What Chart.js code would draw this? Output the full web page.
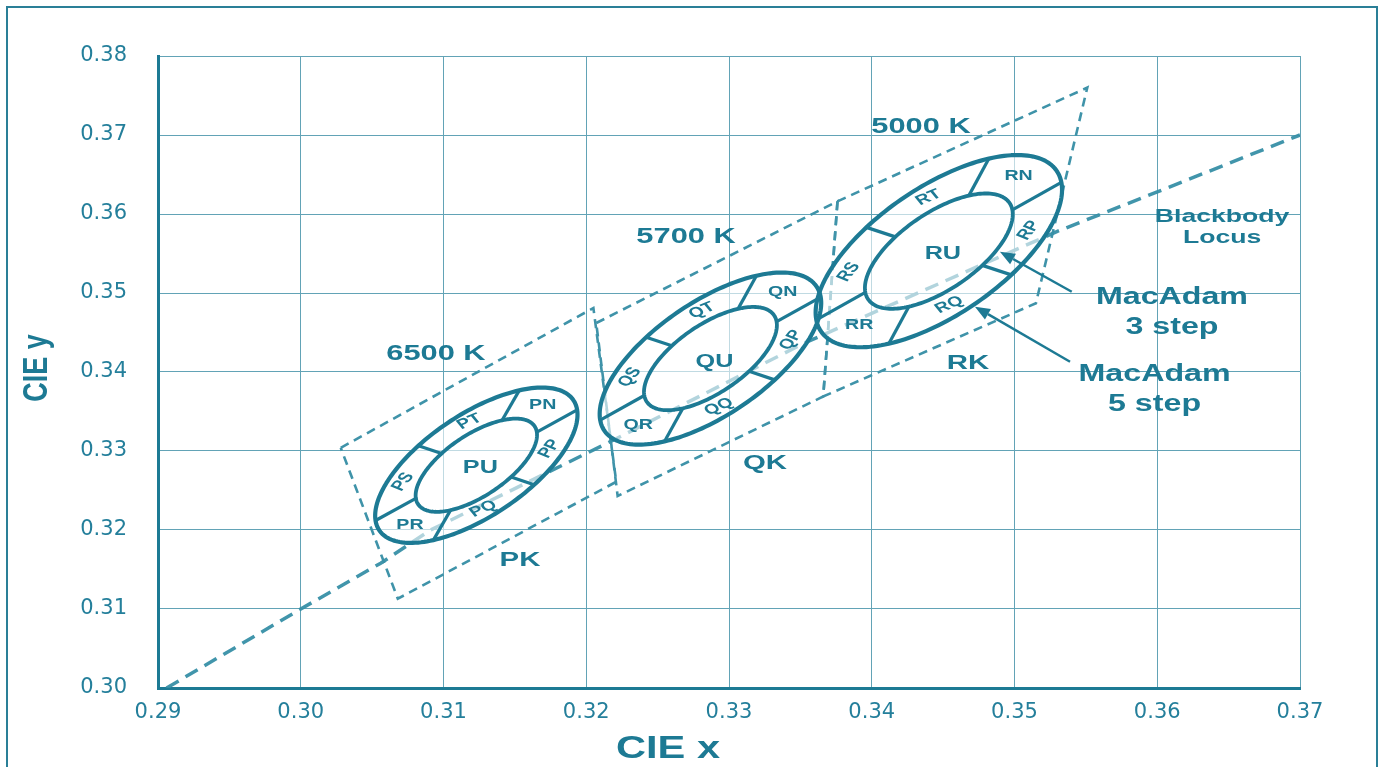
<!DOCTYPE html>
<html>
<head>
<meta charset="utf-8">
<title>MacAdam ellipses and CCT quadrangles</title>
<script src="https://cdn.jsdelivr.net/npm/chart.js@4.4.1/dist/chart.umd.min.js"></script>
<style>
  html, body { margin: 0; padding: 0; background: #fff; }
  #wrap { position: relative; width: 1382px; height: 767px; overflow: hidden; }
</style>
</head>
<body>
<div id="wrap"><canvas id="cie" width="1382" height="767"></canvas></div>
<script>
/* ---------- data ---------- */
const xTickLabels = ['0.29', '0.30', '0.31', '0.32', '0.33', '0.34', '0.35', '0.36', '0.37'];
const yTickLabels = ['0.30', '0.31', '0.32', '0.33', '0.34', '0.35', '0.36', '0.37', '0.38'];

// blackbody locus
const locusX = [0.2906, 0.3000, 0.3056, 0.3091, 0.3217, 0.3352, 0.3411, 0.3530, 0.3600, 0.3700];
const locusY = [0.3000, 0.3100, 0.3158, 0.3200, 0.3312, 0.3436, 0.3483, 0.3578, 0.3628, 0.3700];

// CCT quadrangles, corners from top-left going clockwise
const pkX = [0.3028, 0.3205, 0.3221, 0.3068];
const pkY = [0.3304, 0.3481, 0.3261, 0.3113];
const qkX = [0.3207, 0.3376, 0.3366, 0.3222];
const qkY = [0.3462, 0.3616, 0.3369, 0.3243];
const rkX = [0.3376, 0.3551, 0.3515, 0.3366];
const rkY = [0.3616, 0.3760, 0.3487, 0.3369];

// MacAdam ellipses (one-step size), drawn at 3 and 5 steps
const binNames    = ['P', 'Q', 'R'];
const ellipseCx   = [0.3123, 0.3287, 0.3447];
const ellipseCy   = [0.3282, 0.3417, 0.3553];
const ellipseA    = [0.00223, 0.00246, 0.00274];
const ellipseB    = [0.00095, 0.00105, 0.00118];
const ellipseTilt = [58.57, 59.09, 59.37];
const steps       = [3, 5];

// sub-bins of the ring between the 3 and 5 step ellipses
const ringNames = ['N', 'T', 'S', 'R', 'Q', 'P'];
const ringAngle = [0, 60, 120, 180, 240, 300];
const ringCuts  = [30, 90, 150, 210, 270, 330];

// arrows to the two ellipses
const arrowFromX = [0.35401, 0.35389];
const arrowFromY = [0.35016, 0.34130];
const arrowToX   = [0.34898, 0.34723];
const arrowToY   = [0.35523, 0.34827];

/* ---------- styles ---------- */
const TEAL = '#1d7a94';
const DASH = '#3f93a9';
const GRID = '#62a3b6';
const TICK = '#247f9b';
const SX = 1.4; // the original lettering is stretched sideways
const ringTextRot = [0, -30, -60, 0, -30, -60];

const notes = [
  { text: '6500 K',    x: 0.30947, y: 0.34228, size: 22 },
  { text: '5700 K',    x: 0.32699, y: 0.35709, size: 22 },
  { text: '5000 K',    x: 0.34345, y: 0.37101, size: 22 },
  { text: 'PK',        x: 0.31536, y: 0.31620, size: 21 },
  { text: 'QK',        x: 0.33252, y: 0.32848, size: 21 },
  { text: 'RK',        x: 0.34674, y: 0.34114, size: 21 },
  { text: 'Blackbody', x: 0.36454, y: 0.35962, size: 19 },
  { text: 'Locus',     x: 0.36454, y: 0.35696, size: 19 },
  { text: 'MacAdam',   x: 0.36103, y: 0.34943, size: 23 },
  { text: '3 step',    x: 0.36103, y: 0.34563, size: 23 },
  { text: 'MacAdam',   x: 0.35981, y: 0.33971, size: 23 },
  { text: '5 step',    x: 0.35981, y: 0.33592, size: 23 }
];

/* ---------- helpers ---------- */
const toPoints = (xs, ys) => xs.map((x, i) => ({ x, y: ys[i] }));
const closed = (xs, ys) => { const p = toPoints(xs, ys); p.push(p[0]); return p; };

function label(ctx, text, px, py, size, rot, sx) {
  ctx.save();
  ctx.translate(px, py);
  ctx.scale(sx || SX, 1);
  ctx.rotate((rot || 0) * Math.PI / 180);
  ctx.font = `bold ${size}px "Liberation Sans", Arial, sans-serif`;
  ctx.fillStyle = TEAL;
  ctx.textAlign = 'center';
  ctx.textBaseline = 'middle';
  ctx.fillText(text, 0, 0);
  ctx.restore();
}

// point on bin i's ellipse of k steps, at parameter angle t (deg)
function ellipsePoint(i, k, t) {
  const r = t * Math.PI / 180, th = ellipseTilt[i] * Math.PI / 180;
  const u = k * ellipseA[i] * Math.cos(r), v = k * ellipseB[i] * Math.sin(r);
  return {
    x: ellipseCx[i] + u * Math.cos(th) - v * Math.sin(th),
    y: ellipseCy[i] + u * Math.sin(th) + v * Math.cos(th)
  };
}

function arrow(ctx, x0, y0, x1, y1) {
  const ang = Math.atan2(y1 - y0, x1 - x0), head = 15, half = 6;
  const bx = x1 - head * Math.cos(ang), by = y1 - head * Math.sin(ang);
  ctx.beginPath();
  ctx.moveTo(x0, y0);
  ctx.lineTo(bx, by);
  ctx.lineWidth = 2.5;
  ctx.stroke();
  ctx.beginPath();
  ctx.moveTo(x1, y1);
  ctx.lineTo(bx - half * Math.sin(ang), by + half * Math.cos(ang));
  ctx.lineTo(bx + half * Math.sin(ang), by - half * Math.cos(ang));
  ctx.closePath();
  ctx.fill();
}

/* ---------- plugin: frame, ellipses, labels ---------- */
const cieDecor = {
  id: 'cieDecor',
  beforeDraw(chart) {
    const ctx = chart.ctx;
    ctx.save();
    ctx.strokeStyle = '#2a7f97';
    ctx.lineWidth = 2;
    ctx.strokeRect(7, 7, 1370, 820);
    ctx.restore();
  },
  afterDatasetsDraw(chart) {
    const { ctx, scales: { x, y } } = chart;
    const px = p => [x.getPixelForValue(p.x), y.getPixelForValue(p.y)];
    const trace = (i, k) => {
      ctx.beginPath();
      for (let t = 0; t <= 360; t += 2) {
        const [a, b] = px(ellipsePoint(i, k, t));
        t === 0 ? ctx.moveTo(a, b) : ctx.lineTo(a, b);
      }
      ctx.closePath();
    };

    ctx.save();
    // faint white veil inside the 5 step ellipses
    binNames.forEach((_, i) => {
      trace(i, 5);
      ctx.fillStyle = 'rgba(255,255,255,0.6)';
      ctx.fill();
    });

    ctx.strokeStyle = TEAL;
    ctx.fillStyle = TEAL;
    ctx.lineJoin = 'round';
    binNames.forEach((name, i) => {
      steps.forEach(k => {
        trace(i, k);
        ctx.lineWidth = k === 5 ? 4.2 : 3.8;
        ctx.stroke();
      });
      ringCuts.forEach(t => {
        const [a0, b0] = px(ellipsePoint(i, 3, t));
        const [a1, b1] = px(ellipsePoint(i, 5, t));
        ctx.beginPath();
        ctx.moveTo(a0, b0);
        ctx.lineTo(a1, b1);
        ctx.lineWidth = 3.2;
        ctx.stroke();
      });
      ringNames.forEach((s, j) => {
        const [a, b] = px(ellipsePoint(i, 4, ringAngle[j]));
        label(ctx, name + s, a, b, 14, ringTextRot[j]);
      });
      const [cx, cy] = px({ x: ellipseCx[i], y: ellipseCy[i] });
      label(ctx, name + 'U', cx + 4, cy + 3, 18, 0);
    });

    arrowFromX.forEach((_, i) => {
      const [a0, b0] = px({ x: arrowFromX[i], y: arrowFromY[i] });
      const [a1, b1] = px({ x: arrowToX[i], y: arrowToY[i] });
      arrow(ctx, a0, b0, a1, b1);
    });

    notes.forEach(n => {
      const [a, b] = px(n);
      label(ctx, n.text, a, b, n.size, 0);
    });
    ctx.restore();
  },
  afterDraw(chart) {
    const ctx = chart.ctx;
    label(ctx, 'CIE y', 37, 368, 27, -90, 1.3);
    label(ctx, 'CIE x', 668, 749, 32, 0, 1.3);
  }
};

/* ---------- chart ---------- */
const quad = (xs, ys) => ({
  data: closed(xs, ys),
  showLine: true,
  borderColor: DASH,
  borderWidth: 2.6,
  borderDash: [9, 6],
  pointRadius: 0,
  fill: false
});

const tickFont = { family: '"DejaVu Sans", sans-serif', size: 21 };

new Chart(document.getElementById('cie').getContext('2d'), {
  type: 'scatter',
  data: {
    datasets: [
      {
        data: toPoints(locusX, locusY),
        showLine: true,
        borderColor: 'rgba(55,143,166,0.95)',
        borderWidth: 3.5,
        borderDash: [14, 8],
        pointRadius: 0,
        fill: false
      },
      quad(pkX, pkY),
      quad(qkX, qkY),
      quad(rkX, rkY)
    ]
  },
  options: {
    responsive: false,
    animation: false,
    events: [],
    layout: { padding: { top: 56, right: 82, bottom: 0, left: 0 } },
    plugins: { legend: { display: false }, tooltip: { enabled: false } },
    scales: {
      x: {
        type: 'linear',
        min: 0.29,
        max: 0.37,
        afterFit: s => { s.height = 79; },
        afterBuildTicks: s => { s.ticks = xTickLabels.map(v => ({ value: parseFloat(v) })); },
        ticks: { callback: (v, i) => xTickLabels[i], padding: 12, color: TICK, font: tickFont, autoSkip: false, maxRotation: 0 },
        grid: { color: GRID, lineWidth: 1, drawTicks: false },
        border: { color: TEAL, width: 3 }
      },
      y: {
        type: 'linear',
        min: 0.30,
        max: 0.38,
        afterFit: s => { s.width = 158; },
        afterBuildTicks: s => { s.ticks = yTickLabels.map(v => ({ value: parseFloat(v) })); },
        ticks: { callback: (v, i) => yTickLabels[i], padding: 31, color: TICK, font: tickFont, autoSkip: false },
        grid: { color: GRID, lineWidth: 1, drawTicks: false },
        border: { color: TEAL, width: 3 }
      }
    }
  },
  plugins: [cieDecor]
});
</script>
</body>
</html>
